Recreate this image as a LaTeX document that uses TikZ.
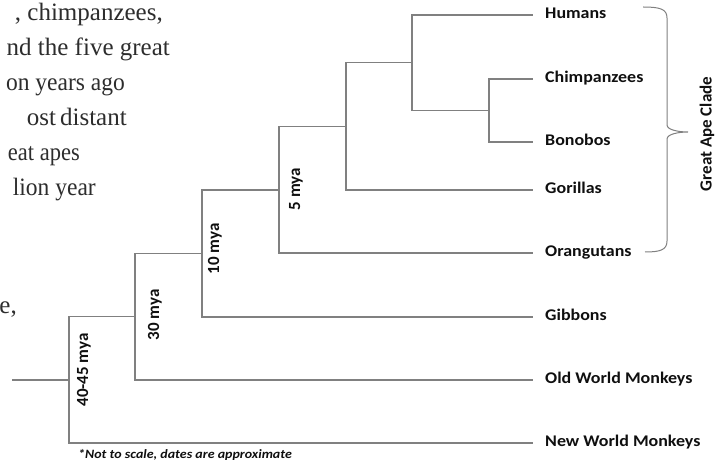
\documentclass[tikz,border=0pt]{standalone}
\usepackage{fontspec}
\setmainfont{Liberation Serif}
\newfontfamily\labfont[FakeStretch=1.1]{Carlito}
\newfontfamily\rotfont{Carlito}
\definecolor{branchc}{RGB}{128,128,128}
\definecolor{txtc}{RGB}{15,15,15}
\definecolor{parac}{RGB}{45,45,45}
\begin{document}
\begin{tikzpicture}[x=1pt,y=-1pt,
  branch/.style={draw=branchc, line width=1.1pt},
  leaf/.style={anchor=west, inner xsep=12pt, inner ysep=0pt,
    font=\labfont\bfseries\fontsize{16.3}{18}\selectfont, text=txtc,
    text height=0.65em, text depth=0pt},
  age/.style={rotate=90, inner sep=0pt, text=txtc,
    font=\rotfont\bfseries\fontsize{17}{19}\selectfont},
  paraline/.style={anchor=base east, inner sep=0pt, text=parac,
    font=\fontsize{25}{30}\selectfont}]
\useasboundingbox (0,0) rectangle (721,465);

% background paragraph fragment
\node[paraline] (p1) at (163,21) {, chimpanzees,};
\node[paraline] (p2) at (170,56) {nd the five great};
\node[paraline] (p3) at (125,91) {\scalebox{0.94}[1]{on years ago}};
\node[paraline] (p4) at (111,126) {\makebox[84pt][s]{ost distant}};
\node[paraline] (p5) at (80,161) {\scalebox{0.9}[1]{eat apes}};
\node[paraline] (p6) at (96,196) {\scalebox{0.94}[1]{lion year}};
\node[paraline] (p7) at (17,314) {e,};

% leaves
\node[leaf] (hum) at (533,15) {Humans};
\node[leaf] (chi) at (533,79) {Chimpanzees};
\node[leaf] (bon) at (533,142) {Bonobos};
\node[leaf] (gor) at (533,190) {Gorillas};
\node[leaf] (ora) at (533,253) {Orangutans};
\node[leaf] (gib) at (533,317) {Gibbons};
\node[leaf] (owm) at (533,380) {Old World Monkeys};
\node[leaf] (nwm) at (533,443) {New World Monkeys};

% internal nodes
\coordinate (stub) at (12,380);
\coordinate (A) at (69,380);
\coordinate (B) at (135,316.5);
\coordinate (C) at (202,253.5);
\coordinate (D) at (279,190);
\coordinate (E) at (346,126.5);
\coordinate (F) at (412,62.5);
\coordinate (G) at (489,110.5);

\draw[branch] (stub) -- (A);
\draw[branch] (A) |- (B);
\draw[branch] (A) |- (nwm.west);
\draw[branch] (B) |- (C);
\draw[branch] (B) |- (owm.west);
\draw[branch] (C) |- (D);
\draw[branch] (C) |- (gib.west);
\draw[branch] (D) |- (E);
\draw[branch] (D) |- (ora.west);
\draw[branch] (E) |- (F);
\draw[branch] (E) |- (gor.west);
\draw[branch] (F) |- (hum.west);
\draw[branch] (F) |- (G);
\draw[branch] (G) |- (chi.west);
\draw[branch] (G) |- (bon.west);

% ages
\node[age] (a5) at (296,189) {5 mya};
\node[age] (a10) at (215,249) {10 mya};
\node[age] (a30) at (155,315) {30 mya};
\node[age] (a40) at (84,370) {40-45 mya};

% clade brace
\draw[branch, line width=1pt] (643,7) .. controls (660,7) and (667,9) .. (667,18)
  -- (667,125) .. controls (667,130) and (679,132) .. (688,132)
  .. controls (679,132) and (667,134) .. (667,139)
  -- (667,241) .. controls (667,250) and (660,252) .. (645,252);
\node[age] (clade) at (707,134) {Great Ape Clade};

% footnote
\node[anchor=west, inner sep=0pt, text=txtc,
  font=\labfont\bfseries\itshape\fontsize{12.7}{14}\selectfont] (note) at (78,455)
  {*Not to scale, dates are approximate};
\end{tikzpicture}
\end{document}
